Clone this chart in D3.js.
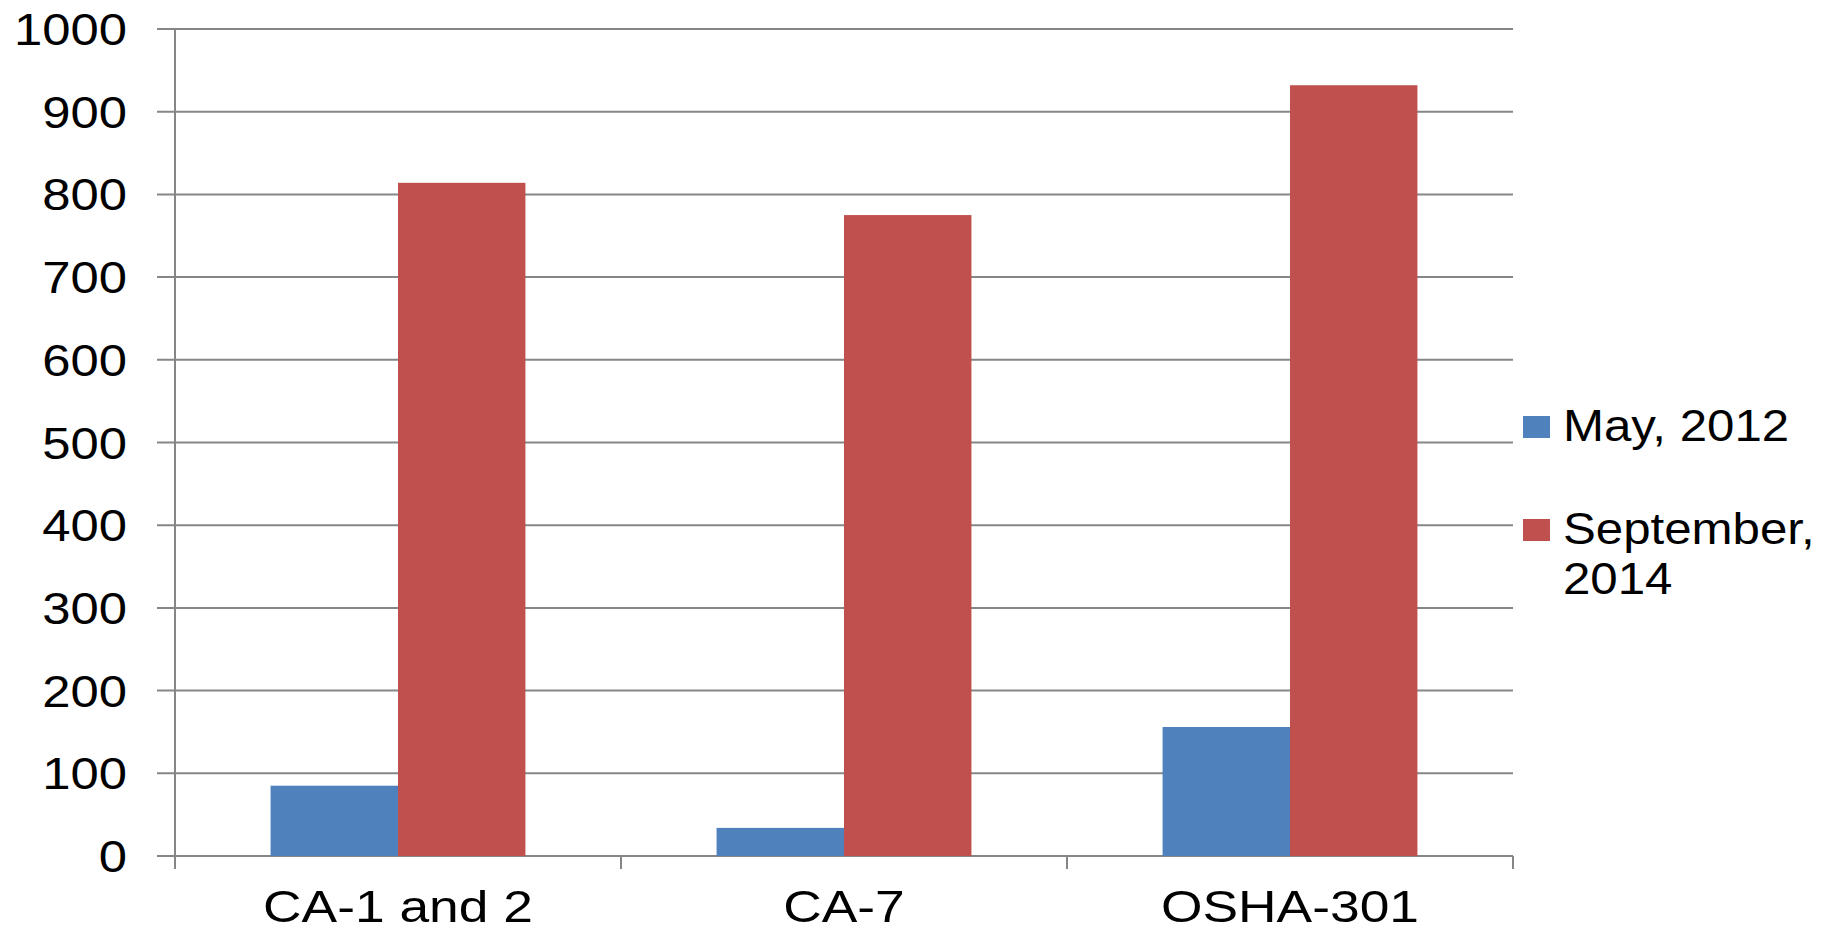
<!DOCTYPE html>
<html>
<head>
<meta charset="utf-8">
<script src="https://cdn.jsdelivr.net/npm/d3@7"></script>
<style>
  body { margin: 0; background: #fff; }
  text { font-family: "Liberation Sans", Arial, sans-serif; fill: #000; }
</style>
</head>
<body>
<div id="chart"></div>
<script>
// data
const categories = ['CA-1 and 2', 'CA-7', 'OSHA-301']
const seriesNames = ['May, 2012', 'September, 2014']
const may2012 = [85, 34, 156]
const sep2014 = [814, 775, 932]
const yTicks = [0, 100, 200, 300, 400, 500, 600, 700, 800, 900, 1000]
const colors = ['#4F81BD', '#C0504D']

const WIDTH = 1829
const HEIGHT = 935
const margin = { left: 175, right: 316, top: 29, bottom: 79 }
const sx = 1.13 // text in the source is a little stretched sideways

const svg = d3.select('#chart').append('svg')
  .attr('width', WIDTH)
  .attr('height', HEIGHT)

const innerW = WIDTH - margin.left - margin.right
const innerH = HEIGHT - margin.top - margin.bottom

const g = svg.append('g')
  .attr('transform', `translate(${margin.left},${margin.top})`)

const x0 = d3.scaleBand()
  .domain(categories)
  .range([0, innerW])

// gap width 150% like the office chart
const barW = x0.bandwidth() / 3.5
const x1 = d3.scaleBand()
  .domain(seriesNames)
  .range([barW * 0.75, x0.bandwidth() - barW * 0.75])

const y = d3.scaleLinear()
  .domain([0, 1000])
  .range([innerH, 0])

// gridlines
g.selectAll('.grid')
  .data(yTicks)
  .enter()
  .append('line')
  .attr('x1', -18)
  .attr('x2', innerW)
  .attr('y1', d => y(d))
  .attr('y2', d => y(d))
  .attr('stroke', '#868686')
  .attr('stroke-width', 2)

// y axis line
g.append('line')
  .attr('x1', 0).attr('x2', 0)
  .attr('y1', 0).attr('y2', innerH)
  .attr('stroke', '#868686')
  .attr('stroke-width', 2)

// category boundary ticks
const bounds = categories.map(c => x0(c)).concat([innerW])
g.selectAll('.xtick')
  .data(bounds)
  .enter()
  .append('line')
  .attr('x1', d => d).attr('x2', d => d)
  .attr('y1', innerH).attr('y2', innerH + 13)
  .attr('stroke', '#868686')
  .attr('stroke-width', 2)

// bars
const rows = categories.map((c, i) => ({ cat: c, vals: [may2012[i], sep2014[i]] }))
const groups = g.selectAll('.cat')
  .data(rows)
  .enter()
  .append('g')
  .attr('transform', d => `translate(${x0(d.cat)},0)`)

groups.selectAll('rect')
  .data(d => d.vals.map((v, j) => ({ name: seriesNames[j], v: v, j: j })))
  .enter()
  .append('rect')
  .attr('x', d => x1(d.name))
  .attr('width', x1.bandwidth())
  .attr('y', d => y(d.v))
  .attr('height', d => innerH - y(d.v))
  .attr('fill', d => colors[d.j])

// y labels
g.selectAll('.ylab')
  .data(yTicks)
  .enter()
  .append('text')
  .attr('text-anchor', 'end')
  .attr('font-size', 45)
  .attr('transform', d => `translate(-48,${y(d) + 16}) scale(${sx},1)`)
  .text(d => d)

// x labels
g.selectAll('.xlab')
  .data(categories)
  .enter()
  .append('text')
  .attr('text-anchor', 'middle')
  .attr('font-size', 45)
  .attr('transform', d => `translate(${x0(d) + x0.bandwidth() / 2},${innerH + 66}) scale(${sx * 1.05},1)`)
  .text(d => d)

// legend
const legendItems = [
  { lines: ['May, 2012'], color: colors[0], top: 416 },
  { lines: ['September,', '2014'], color: colors[1], top: 519 }
]
const legend = svg.append('g')
legendItems.forEach(item => {
  legend.append('rect')
    .attr('x', 1523)
    .attr('y', item.top)
    .attr('width', 27)
    .attr('height', 22)
    .attr('fill', item.color)
  item.lines.forEach((line, k) => {
    legend.append('text')
      .attr('font-size', 44)
      .attr('transform', `translate(1563,${item.top + 25 + k * 50}) scale(${sx * 0.99},1)`)
      .text(line)
  })
})
</script>
</body>
</html>
